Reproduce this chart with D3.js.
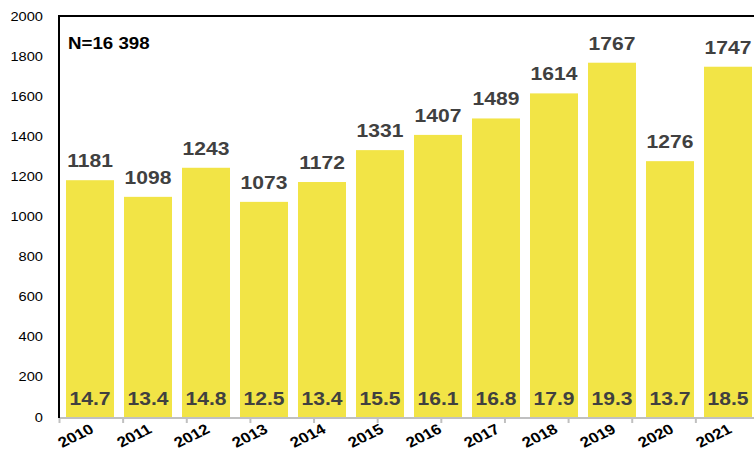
<!DOCTYPE html>
<html>
<head>
<meta charset="utf-8">
<script src="https://cdn.jsdelivr.net/npm/d3@7"></script>
<style>
  body { margin: 0; background: #fff; }
  text { font-family: Arial, "Liberation Sans", sans-serif; }
</style>
</head>
<body>
<div id="chart"></div>
<script>
// data
const years = ['2010','2011','2012','2013','2014','2015','2016','2017','2018','2019','2020','2021'];
const counts = [1181, 1098, 1243, 1073, 1172, 1331, 1407, 1489, 1614, 1767, 1276, 1747];
const rates = ['14.7','13.4','14.8','12.5','13.4','15.5','16.1','16.8','17.9','19.3','13.7','18.5'];
const yTicks = [0, 200, 400, 600, 800, 1000, 1200, 1400, 1600, 1800, 2000];
const totalLabel = 'N=16 398';

const svgWidth = 754, svgHeight = 454;
const plotLeft = 59, plotTop = 16, plotBottom = 417;
const stretch = 1.17; // source picture is stretched sideways, text too

const svg = d3.select('#chart').append('svg')
  .attr('width', svgWidth)
  .attr('height', svgHeight);

const y = d3.scaleLinear().domain([0, 2000]).range([plotBottom, plotTop]);

// bars on a band scale, x ticks from a wider point scale (as in the source)
const x = d3.scaleBand().domain(years).range([61, 61 + 58 * years.length])
  .paddingInner(10 / 58).paddingOuter(5 / 58);
const xTick = d3.scalePoint().domain(years).range([59, 759]);
const cx = d => x(d) + x.bandwidth() / 2;

// bars
svg.selectAll('rect.bar')
  .data(counts)
  .enter()
  .append('rect')
  .attr('class', 'bar')
  .attr('x', (d, i) => x(years[i]))
  .attr('y', d => y(d))
  .attr('width', x.bandwidth())
  .attr('height', d => y(0) - y(d))
  .style('fill', '#f2e446');

// value labels above bars
svg.selectAll('text.val')
  .data(counts)
  .enter()
  .append('text')
  .attr('class', 'val')
  .attr('transform', (d, i) => `translate(${cx(years[i])},${y(d) - 13}) scale(${stretch},1)`)
  .attr('text-anchor', 'middle')
  .style('font-size', '18px')
  .style('font-weight', 'bold')
  .style('fill', '#404040')
  .text(d => d);

// rate labels inside bars
svg.selectAll('text.rate')
  .data(rates)
  .enter()
  .append('text')
  .attr('class', 'rate')
  .attr('transform', (d, i) => `translate(${cx(years[i])},405) scale(${stretch},1)`)
  .attr('text-anchor', 'middle')
  .style('font-size', '18px')
  .style('font-weight', 'bold')
  .style('fill', '#404040')
  .text(d => d);

// x axis line + ticks (gray)
const xAxis = svg.append('g')
  .attr('transform', `translate(0,${plotBottom + 1})`)
  .call(d3.axisBottom(xTick).tickSize(5).tickFormat(''));
xAxis.select('.domain').attr('stroke', '#c0c0c0').attr('stroke-width', 2).attr('d', `M${plotLeft},0H${svgWidth}`);
xAxis.selectAll('.tick line').attr('stroke', '#c0c0c0').attr('stroke-width', 2);

// year labels, rotated
svg.selectAll('text.year')
  .data(years)
  .enter()
  .append('text')
  .attr('class', 'year')
  .attr('transform', d => `translate(${cx(d) + 5},${plotBottom + 15}) scale(${stretch},1) rotate(-30)`)
  .attr('text-anchor', 'end')
  .style('font-size', '14.5px')
  .style('font-weight', 'bold')
  .style('fill', '#000')
  .text(d => d);

// y tick labels
svg.selectAll('text.ytick')
  .data(yTicks)
  .enter()
  .append('text')
  .attr('class', 'ytick')
  .attr('transform', d => `translate(43,${y(d) + 4.5}) scale(${stretch},1)`)
  .attr('text-anchor', 'end')
  .style('font-size', '12.5px')
  .style('fill', '#000')
  .text(d => d);

// frame: left and top lines
svg.append('path')
  .attr('d', `M${plotLeft},${plotBottom + 1}V${plotTop}H${svgWidth}`)
  .attr('fill', 'none')
  .attr('stroke', '#000')
  .attr('stroke-width', 2);

svg.append('text')
  .attr('transform', `translate(68,49) scale(${stretch},1)`)
  .style('font-size', '16px')
  .style('font-weight', 'bold')
  .text(totalLabel);
</script>
</body>
</html>
